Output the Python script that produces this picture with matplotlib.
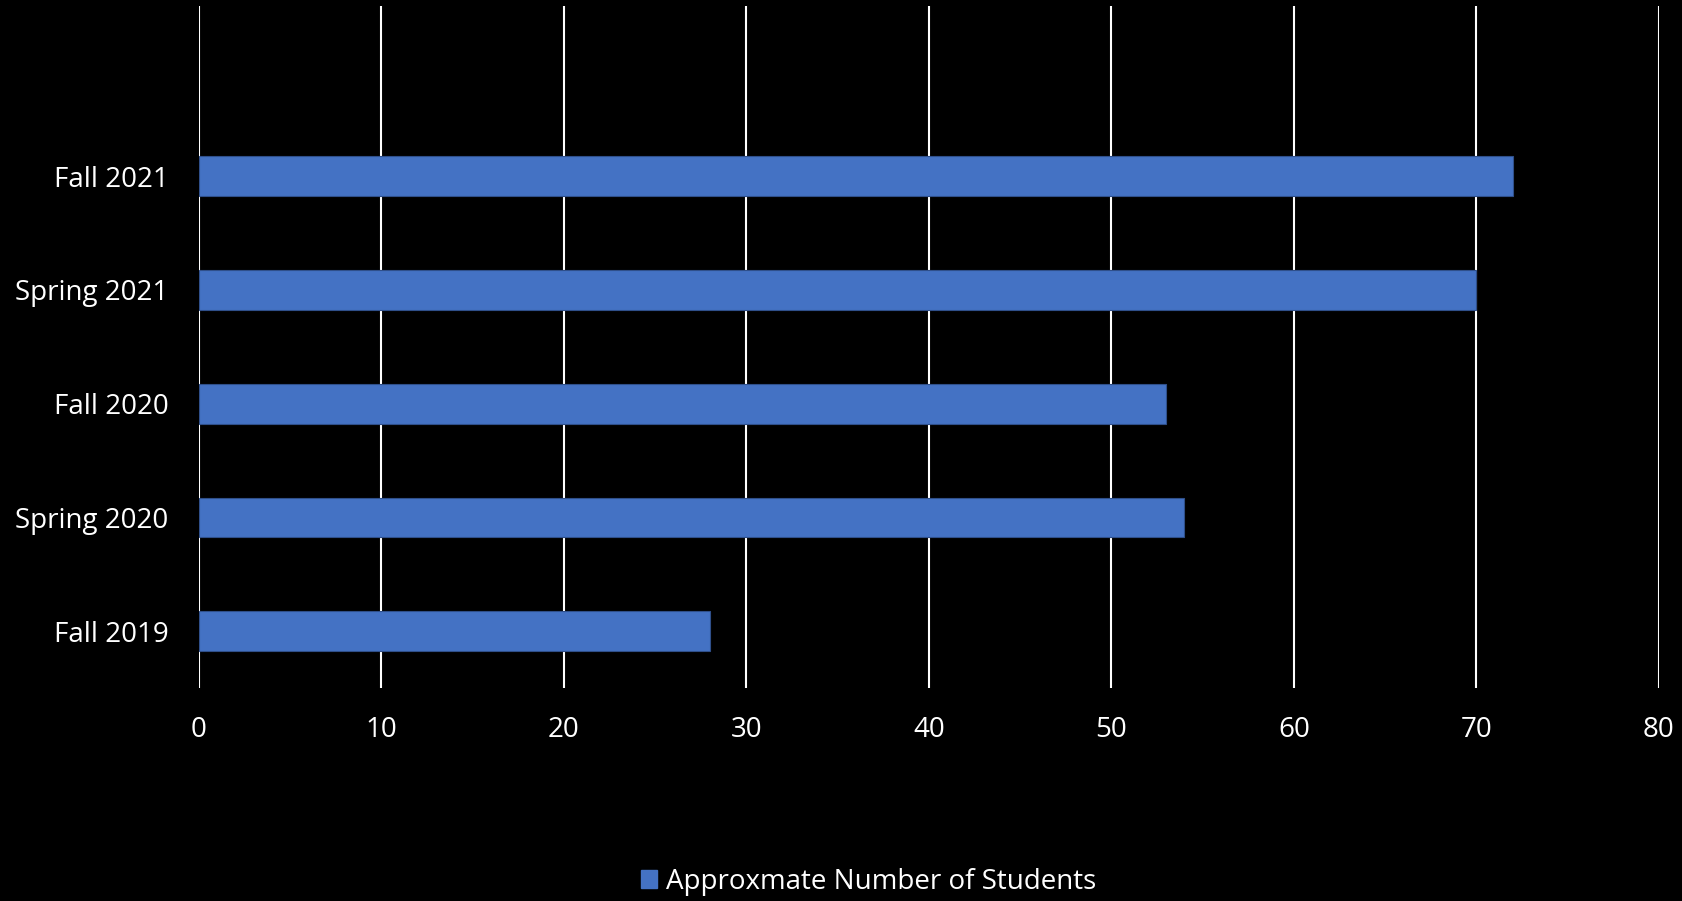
import matplotlib.pyplot as plt
from matplotlib.patches import Patch

plt.rcParams['font.family'] = ['Open Sans', 'DejaVu Sans']

semesters = ["Fall 2019", "Spring 2020", "Fall 2020", "Spring 2021", "Fall 2021"]
students = [28, 54, 53, 70, 72]
series_name = "Approxmate Number of Students"
xticks = [0, 10, 20, 30, 40, 50, 60, 70, 80]

bar_color = '#4472C4'

fig = plt.figure(figsize=(16.83, 9.01), dpi=100, facecolor='black')
ax = fig.add_axes([0.1182, 0.2364, 0.8675, 0.7573])
ax.set_facecolor('black')

ypos = list(range(len(semesters)))
ax.barh(ypos, students, height=0.35, color=bar_color, edgecolor='#2F4F8A', linewidth=0.8, zorder=3)

ax.set_xlim(0, 80)
ax.set_ylim(-0.5, 5.5)
ax.set_xticks(xticks)
ax.set_yticks(ypos)
ax.set_yticklabels(semesters)
ax.xaxis.grid(True, color='white', linewidth=1.5, zorder=1)
ax.set_axisbelow(True)
for s in ax.spines.values():
    s.set_visible(False)
ax.tick_params(axis='both', length=0, colors='white', labelsize=20)
ax.tick_params(axis='y', pad=22)
ax.tick_params(axis='x', pad=20)

handle = Patch(facecolor=bar_color, edgecolor=bar_color)
fig.legend([handle], [series_name], loc='center', bbox_to_anchor=(0.516, 0.021),
           frameon=False, fontsize=20, labelcolor='white', handlelength=0.6,
           handleheight=0.6, handletextpad=0.3)

fig.savefig('out.png', dpi=100, facecolor='black')
